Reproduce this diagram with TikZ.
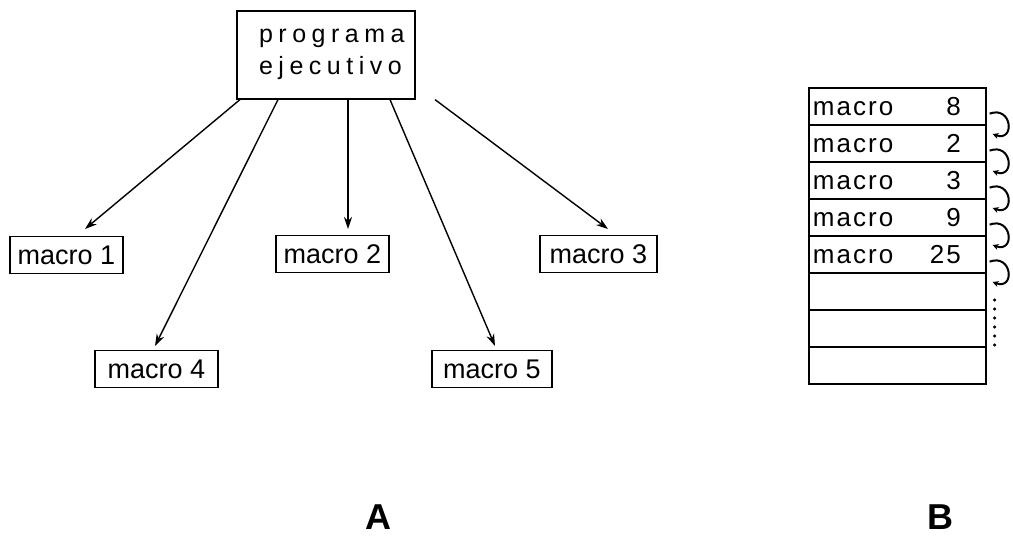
\documentclass[tikz,border=0pt]{standalone}
\usepackage{fontspec}
\setmainfont{Liberation Sans}
\usetikzlibrary{arrows.meta}
\begin{document}
\begin{tikzpicture}[x=1pt,y=-1pt,
  box/.style={draw,line width=1.6pt,inner sep=0pt,font=\fontsize{27}{30}\selectfont},
  mbox/.style={box,minimum height=37pt},
  row/.style={draw,line width=1.6pt,minimum width=177pt,minimum height=37pt,inner sep=0pt,anchor=north west,
    font=\fontsize{26}{28}\selectfont\addfontfeature{LetterSpace=8}},
  arr/.style={-{Stealth[length=12pt,width=8pt]},line width=1.4pt},
  curl/.style={-{Stealth[length=6pt,width=6pt]},line width=2pt},
  lab/.style={font=\fontsize{36}{38}\selectfont\bfseries}]
\useasboundingbox (0,0) rectangle (1013,541);
% A
\node[box,anchor=north west,minimum width=178pt,minimum height=88pt,align=left,
  font=\fontsize{25}{32}\selectfont\addfontfeature{LetterSpace=22}] (pe) at (236,10)
  {\hspace*{12pt}programa\\\hspace*{12pt}ejecutivo};
\node[mbox,minimum width=113pt] (m1) at (66.5,255) {macro 1};
\node[mbox,minimum width=113pt] (m2) at (332.5,254) {macro 2};
\node[mbox,minimum width=117pt] (m3) at (598.5,254) {macro 3};
\node[mbox,minimum width=123pt] (m4) at (156.5,369) {macro 4};
\node[mbox,minimum width=120pt] (m5) at (492,369) {macro 5};
\coordinate (a1) at (85,229);
\coordinate (a4) at (155,346);
\coordinate (a2) at (348,229);
\coordinate (a5) at (495,346);
\coordinate (a3) at (608,229);
\draw[arr] ([xshift=4pt]pe.south west) -- (a1);
\draw[arr] ([xshift=42pt]pe.south west) -- (a4);
\draw[arr] ([xshift=112pt]pe.south west) -- (a2);
\draw[arr] ([xshift=154pt]pe.south west) -- (a5);
\draw[arr] ([xshift=199pt]pe.south west) -- (a3);
% B
\newcommand{\rowtext}[1]{\makebox[177pt][l]{\hspace*{4pt}\makebox[148pt][l]{macro\hfill #1}}}
\node[row] (r1) at (808,87) {\rowtext{8}};
\node[row] (r2) at (808,124) {\rowtext{2}};
\node[row] (r3) at (808,161) {\rowtext{3}};
\node[row] (r4) at (808,198) {\rowtext{9}};
\node[row] (r5) at (808,235) {\rowtext{25}};
\node[row] (r6) at (808,272) {};
\node[row] (r7) at (808,309) {};
\node[row] (r8) at (808,346) {};
\foreach \a/\b in {r1/r2,r2/r3,r3/r4,r4/r5,r5/r6}{
  \draw[curl] ([xshift=3pt,yshift=12pt]\a.south east) to[out=20,in=-20,looseness=3] ([xshift=6pt,yshift=-10pt]\b.north east);
}
\foreach \y in {300,309,318,327,336,345}{
  \fill ([xshift=8pt,yshift=272-\y]r6.north east) circle (1.7pt);
}
\node[lab] (A) at (378,517) {A};
\node[lab] (B) at (940,517) {B};
\end{tikzpicture}
\end{document}
